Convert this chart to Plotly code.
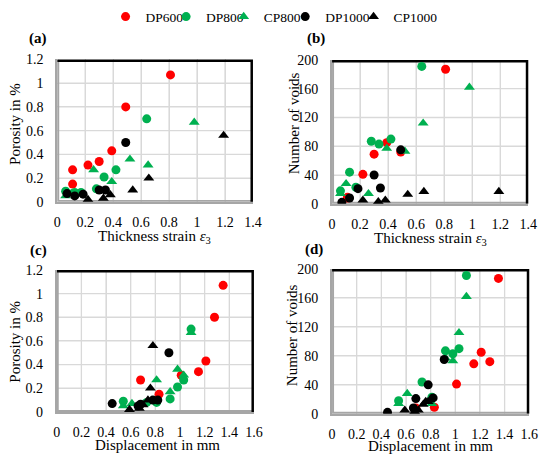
import plotly.graph_objects as go

# values read per sample: thickness strain, displacement (mm), porosity (%), number of voids
dp600_strain = [0.11, 0.11, 0.22, 0.30, 0.39, 0.49, 0.81]
dp600_disp = [0.68, 0.83, 1.01, 1.15, 1.21, 1.28, 1.35]
dp600_por = [0.27, 0.15, 0.31, 0.34, 0.43, 0.80, 1.07]
dp600_voids = [8, 9, 41, 69, 85, 72, 187]

dp800_strain = [0.06, 0.125, 0.17, 0.28, 0.335, 0.42, 0.64]
dp800_disp = [0.54, 0.73, 0.81, 0.92, 0.98, 1.03, 1.09]
dp800_por = [0.09, 0.08, 0.08, 0.11, 0.21, 0.27, 0.70]
dp800_voids = [18, 44, 23, 87, 83, 90, 191]

cp800_strain = [0.06, 0.10, 0.26, 0.39, 0.52, 0.65, 0.98]
cp800_disp = [0.54, 0.61, 0.81, 0.92, 0.98, 1.03, 1.09]
cp800_por = [0.05, 0.07, 0.27, 0.17, 0.36, 0.31, 0.67]
cp800_voids = [14, 28, 14, 77, 73, 112, 162]

dp1000_strain = [0.07, 0.125, 0.185, 0.30, 0.345, 0.49]
dp1000_disp = [0.45, 0.66, 0.68, 0.78, 0.82, 0.91]
dp1000_por = [0.07, 0.05, 0.065, 0.10, 0.10, 0.50]
dp1000_voids = [2, 8, 21, 40, 22, 75]

cp1000_strain = [0.22, 0.33, 0.38, 0.54, 0.655, 1.19]
cp1000_disp = [0.59, 0.67, 0.70, 0.74, 0.76, 0.78]
cp1000_por = [0.02, 0.03, 0.06, 0.10, 0.20, 0.56]
cp1000_voids = [5, 3, 5, 13, 17, 17]

# tick values of the axes
strain_ticks = [0, 0.2, 0.4, 0.6, 0.8, 1.0, 1.2, 1.4]
disp_ticks = [0, 0.2, 0.4, 0.6, 0.8, 1.0, 1.2, 1.4, 1.6]
por_ticks = [0, 0.2, 0.4, 0.6, 0.8, 1.0, 1.2]
voids_ticks = [0, 40, 80, 120, 160, 200]

materials = [
    ("DP600", "#FF0000", "circle", dp600_strain, dp600_disp, dp600_por, dp600_voids),
    ("DP800", "#00B050", "circle", dp800_strain, dp800_disp, dp800_por, dp800_voids),
    ("CP800", "#00B050", "triangle-up", cp800_strain, cp800_disp, cp800_por, cp800_voids),
    ("DP1000", "#000000", "circle", dp1000_strain, dp1000_disp, dp1000_por, dp1000_voids),
    ("CP1000", "#000000", "triangle-up", cp1000_strain, cp1000_disp, cp1000_por, cp1000_voids),
]

W, H = 550, 465
M = 1  # tiny page margin, paper coords are measured inside it
font_family = "Liberation Serif"

def px2x(p):
    return (p - M) / (W - 2 * M)

def px2y(p):
    return 1 - (p - M) / (H - 2 * M)

fig = go.Figure()

# panel -> (xaxis, yaxis, x ticks, y ticks, which column on x, which column on y)
panels = [
    ("x", "y", strain_ticks, por_ticks, 0, 2),
    ("x2", "y2", strain_ticks, voids_ticks, 0, 3),
    ("x3", "y3", disp_ticks, por_ticks, 1, 2),
    ("x4", "y4", disp_ticks, voids_ticks, 1, 3),
]

grid = "#D9D9D9"
axline = "#A6A6A6"

# grid and frame drawn as plain line traces under the points
for xa, ya, xt, yt, ix, iy in panels:
    x0, x1, y0, y1 = xt[0], xt[-1], yt[0], yt[-1]
    gx, gy = [], []
    for t in xt[1:-1]:
        gx += [t, t, None]
        gy += [y0, y1, None]
    for t in yt[1:-1]:
        gx += [x0, x1, None]
        gy += [t, t, None]
    fig.add_trace(go.Scatter(x=gx, y=gy, xaxis=xa, yaxis=ya, mode="lines",
                             line=dict(color=grid, width=1.3), showlegend=False,
                             hoverinfo="skip"))
    fig.add_trace(go.Scatter(x=[x0, x0, x1], y=[y1, y0, y0], xaxis=xa, yaxis=ya,
                             mode="lines", line=dict(color=axline, width=4),
                             showlegend=False, hoverinfo="skip"))
    fig.add_trace(go.Scatter(x=[x0, x1, x1], y=[y1, y1, y0], xaxis=xa, yaxis=ya,
                             mode="lines", line=dict(color="black", width=5),
                             showlegend=False, hoverinfo="skip"))

# one small legend per entry so each one sits where the reference has it
legend_names = ["legend", "legend2", "legend3", "legend4", "legend5"]
legend_left = [104, 166, 225, 288, 358]

for m, (name, color, symbol, strain, disp, por, voids) in enumerate(materials):
    cols = [strain, disp, por, voids]
    for k, (xa, ya, xt, yt, ix, iy) in enumerate(panels):
        fig.add_trace(go.Scatter(
            x=cols[ix], y=cols[iy], xaxis=xa, yaxis=ya,
            mode="markers", name=name, legendgroup=name,
            legend=legend_names[m], showlegend=(k == 0),
            marker=dict(color=color, symbol=symbol,
                        size=9 if symbol == "circle" else 9.5),
        ))

# pixel boxes of the four plot areas: left, right, top, bottom
boxes = {
    "a": (54.5, 255, 50.5, 199),
    "b": (336, 537, 51, 201),
    "c": (54, 256, 270, 418),
    "d": (336, 538, 269, 420),
}

# white outside ticks push the labels away from the axis line
def xaxis(box, ticks, anchor):
    return dict(domain=[px2x(box[0]), px2x(box[1])], range=[ticks[0], ticks[-1]],
                tickvals=ticks, anchor=anchor, showgrid=True, gridcolor=grid,
                gridwidth=1.3, showline=True, linecolor=axline, linewidth=2,
                zeroline=False, ticks="outside", ticklen=6, tickcolor="white",
                tickfont=dict(size=14, family=font_family, color="black"))

def yaxis(box, ticks, anchor):
    return dict(domain=[px2y(box[3]), px2y(box[2])], range=[ticks[0], ticks[-1]],
                tickvals=ticks, anchor=anchor, showgrid=True, gridcolor=grid,
                gridwidth=1.3, showline=True, linecolor=axline, linewidth=2,
                zeroline=False, ticks="outside", ticklen=9, tickcolor="white",
                tickfont=dict(size=14, family=font_family, color="black"))

layout = dict(
    width=W, height=H,
    margin=dict(l=M, r=M, t=M, b=M),
    paper_bgcolor="white", plot_bgcolor="white",
    font=dict(family=font_family, size=14, color="black"),
    xaxis=xaxis(boxes["a"], strain_ticks, "y"),
    yaxis=yaxis(boxes["a"], por_ticks, "x"),
    xaxis2=xaxis(boxes["b"], strain_ticks, "y2"),
    yaxis2=yaxis(boxes["b"], voids_ticks, "x2"),
    xaxis3=xaxis(boxes["c"], disp_ticks, "y3"),
    yaxis3=yaxis(boxes["c"], por_ticks, "x3"),
    xaxis4=xaxis(boxes["d"], disp_ticks, "y4"),
    yaxis4=yaxis(boxes["d"], voids_ticks, "x4"),
)
for lg, left in zip(legend_names, legend_left):
    layout[lg] = dict(orientation="h", x=px2x(left), xanchor="left",
                      y=px2y(6), yanchor="middle", itemwidth=30,
                      font=dict(size=13.5, family=font_family),
                      bgcolor="rgba(0,0,0,0)")
fig.update_layout(**layout)

notes = [
    ("<b>(a)</b>", 35, 29, 0),
    ("<b>(b)</b>", 320, 29, 0),
    ("<b>(c)</b>", 35, 250, 0),
    ("<b>(d)</b>", 317, 249, 0),
    ("Thickness strain <i>ε</i><sub>3</sub>", 154, 236, 0),
    ("Thickness strain <i>ε</i><sub>3</sub>", 437, 238, 0),
    ("Displacement in mm", 157, 453, 0),
    ("Displacement in mm", 437, 454, 0),
    ("Porosity in %", 11, 118, -90),
    ("Number of voids", 297, 117, -90),
    ("Porosity in %", 11, 345, -90),
    ("Number of voids", 295, 338, -90),
]
for text, x, y, ang in notes:
    fig.add_annotation(text=text, x=px2x(x), y=px2y(y), xref="paper", yref="paper",
                       showarrow=False, textangle=ang, xanchor="center", yanchor="middle",
                       font=dict(size=15, family=font_family, color="black"))

# the page body has a default 8px margin; drop it so the figure fills the window
fig.write_html("out.html", config={"displayModeBar": False},
               post_script="document.body.style.margin = '0px';")
